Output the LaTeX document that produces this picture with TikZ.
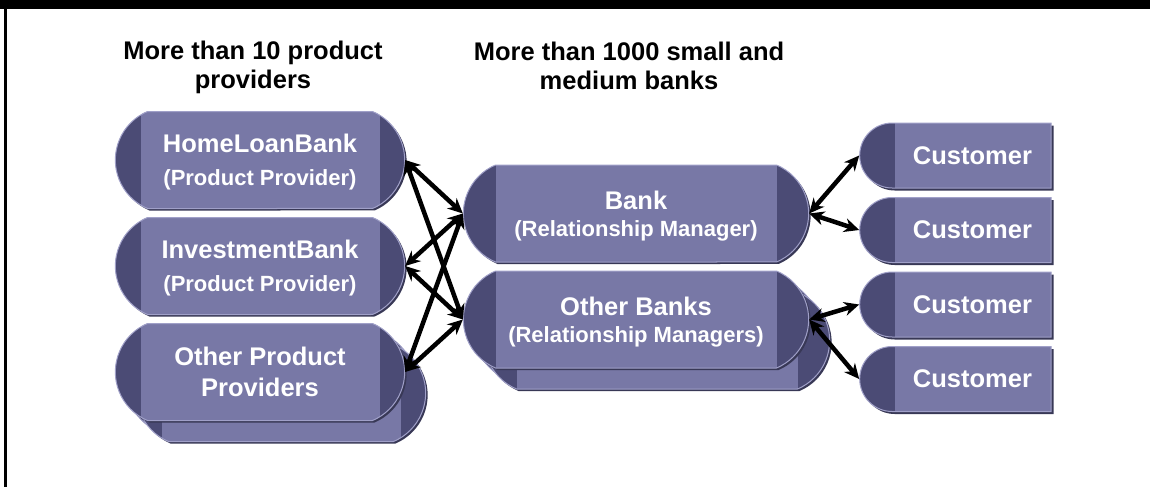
\documentclass[tikz,border=0pt]{standalone}
\usepackage{fontspec}
\setmainfont{Liberation Sans}
\usetikzlibrary{shapes.misc, arrows.meta, positioning, shadows, backgrounds}
\definecolor{bodyblue}{RGB}{120,120,166}
\definecolor{capblue}{RGB}{75,75,117}
\definecolor{edgeblue}{RGB}{56,56,86}
\definecolor{lightblue}{RGB}{160,160,200}
\tikzstyle{title} = [text centered, align=center, font=\fontsize{25.5}{29}\selectfont\bfseries]
\tikzstyle{pill} = [rounded rectangle, rounded rectangle arc length=134, minimum width=296pt, minimum height=97pt, draw=lightblue, line width=1pt, fill=capblue, drop shadow={shadow xshift=2pt, shadow yshift=-2pt, opacity=1, fill=edgeblue}, text=white, text depth=0pt, align=center, font=\fontsize{25.5}{33}\selectfont\bfseries, path picture={\fill[bodyblue] ([xshift=33pt]path picture bounding box.south west) rectangle ([xshift=-32pt]path picture bounding box.north east);}]
\tikzstyle{wide_pill} = [pill, minimum width=352pt, path picture={\fill[bodyblue] ([xshift=40pt]path picture bounding box.south west) rectangle ([xshift=-39pt]path picture bounding box.north east);}]
\tikzstyle{customer_block} = [rounded rectangle, rounded rectangle right arc=none, minimum width=198pt, minimum height=65pt, text width=152pt, align=right, draw=lightblue, line width=1pt, fill=capblue, drop shadow={shadow xshift=2.5pt, shadow yshift=-2.5pt, opacity=1, fill=edgeblue}, text=white, font=\fontsize{25.5}{29}\selectfont\bfseries, path picture={\fill[bodyblue] ([xshift=35pt]path picture bounding box.south west) rectangle (path picture bounding box.north east);}]
\tikzstyle{arrow} = [line width=4.5pt, {Stealth[length=15pt,width=14pt]}-{Stealth[length=15pt,width=14pt]}]

\begin{document}
\begin{tikzpicture}[x=1pt, y=-1pt, node distance=106pt]
		\useasboundingbox (0,0) rectangle (1150,487);
		\fill (0,0) rectangle (1150,9.5);
		\fill (4,0) rectangle (7,487);

		\node (h0) [title] at (253,67) {More than 10 product\\providers};
		\node (h1) [title] at (629,66) {More than 1000 small and\\medium banks};

		\node (p0) [pill] at (260,160) {HomeLoanBank\\{\fontsize{22}{26}\selectfont (Product Provider)}};
		\node (p1) [pill, below of=p0] {InvestmentBank\\{\fontsize{22}{26}\selectfont (Product Provider)}};
		\node (p2) [pill, below of=p1] {Other Product\\[-2pt]Providers};
		\node (b0) [wide_pill] at (636,213.5) {Bank\\[-6pt]{\fontsize{22}{26}\selectfont (Relationship Manager)}};
		\node (b1) [wide_pill, below of=b0] {Other Banks\\[-6pt]{\fontsize{22}{26}\selectfont (Relationship Managers)}};
		\begin{pgfonlayer}{background}
			\node (p2b) [pill] at ([shift={(10.5,10.5)}]p2) {};
			\node (p2c) [pill] at ([shift={(21,21)}]p2) {};
			\node (b1b) [wide_pill] at ([shift={(10.5,10.5)}]b1) {};
			\node (b1c) [wide_pill] at ([shift={(21,21)}]b1) {};
		\end{pgfonlayer}

		\node (c0) [customer_block] at (956,155.5) {Customer};
		\node (c1) [customer_block, node distance=74.5pt, below of=c0] {Customer};
		\node (c2) [customer_block, node distance=74.5pt, below of=c1] {Customer};
		\node (c3) [customer_block, node distance=74.5pt, below of=c2] {Customer};

		\draw [arrow] (p0.east) -- (b0.west);
		\draw [arrow] (p0.east) -- (b1.west);
		\draw [arrow] (p1.east) -- (b0.west);
		\draw [arrow] (p1.east) -- (b1.west);
		\draw [arrow] (p2.east) -- (b0.west);
		\draw [arrow] (p2.east) -- (b1.west);
		\draw [arrow] (b0.east) -- (c0.west);
		\draw [arrow] (b0.east) -- (c1.west);
		\draw [arrow] (b1.east) -- (c2.west);
		\draw [arrow] (b1.east) -- (c3.west);

\end{tikzpicture}
\end{document}
